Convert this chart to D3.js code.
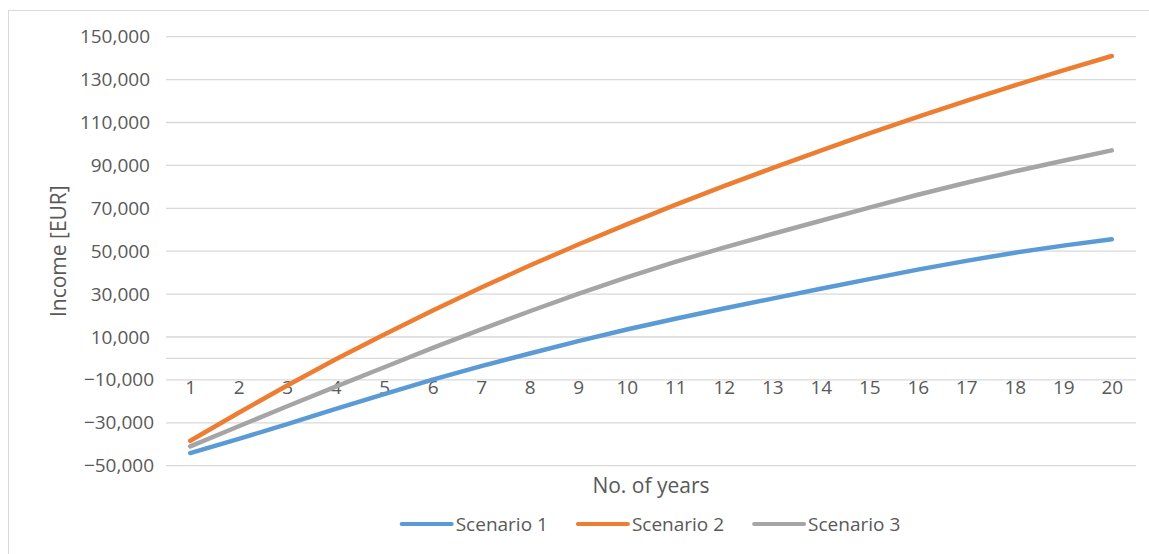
<!DOCTYPE html>
<html>
<head>
<meta charset="utf-8">
<script src="https://cdn.jsdelivr.net/npm/d3@7"></script>
<style>
  html, body { margin: 0; padding: 0; background: #fff; }
  svg { display: block; font-family: "Open Sans", "Noto Sans", sans-serif; }
</style>
</head>
<body>
<svg id="chart" width="1149" height="554"></svg>
<script>
// Project years on the category axis
const years = d3.range(1, 21);

// Cumulative income per scenario [EUR]
const scenario1 = [-44100, -37500, -30600, -23500, -16600, -9900, -3600, 2300, 8100, 13500,
                   18500, 23300, 27900, 32500, 37000, 41400, 45500, 49300, 52600, 55600];
const scenario2 = [-38400, -25300, -12600, -400, 11200, 22400, 33100, 43300, 53100, 62500,
                   71600, 80300, 88700, 96900, 104900, 112600, 120100, 127300, 134300, 141000];
const scenario3 = [-41000, -31600, -22300, -13100, -4100, 4900, 13600, 22000, 30100, 37800,
                   45000, 51700, 58000, 64200, 70300, 76300, 81900, 87200, 92200, 97000];

const seriesNames = ["Scenario 1", "Scenario 2", "Scenario 3"];
const seriesColors = ["#5B9BD5", "#ED7D31", "#A5A5A5"];

// Value axis ticks
const yTicks = [-50000, -30000, -10000, 10000, 30000, 50000, 70000, 90000, 110000, 130000, 150000];

const svg = d3.select("#chart");
const textColor = "#595959";
const gridColor = "#D9D9D9";

const plot = { left: 166, right: 1136, top: 36.7, bottom: 465.7 };

const x = d3.scalePoint().domain(years).range([plot.left, plot.right]).padding(0.5);
const y = d3.scaleLinear().domain([-50000, 150000]).range([plot.bottom, plot.top]);

// Chart area border
svg.append("rect")
  .attr("x", 8.5).attr("y", 10.5)
  .attr("width", 1200).attr("height", 600)
  .attr("fill", "none").attr("stroke", gridColor).attr("stroke-width", 1);

// Horizontal gridlines
svg.append("g")
  .selectAll("line")
  .data(yTicks)
  .join("line")
  .attr("x1", plot.left).attr("x2", plot.right)
  .attr("y1", d => y(d)).attr("y2", d => y(d))
  .attr("stroke", gridColor).attr("stroke-width", 1.3);

// Value axis labels
const fmt = d3.format(",");
const yAxis = svg.append("g")
  .attr("transform", `translate(${plot.left},0)`)
  .call(d3.axisLeft(y).tickValues(yTicks).tickSize(0).tickPadding(16).tickFormat(fmt));
yAxis.select(".domain").remove();
yAxis.selectAll("text")
  .attr("x", d => d < 0 ? -12 : -16)
  .attr("fill", textColor)
  .style("font-size", "19px")
  .style("font-family", "'Open Sans', sans-serif");

// Category axis crossing at zero
const xAxis = svg.append("g")
  .attr("transform", `translate(0,${y(0)})`)
  .call(d3.axisBottom(x).tickSize(0).tickPadding(22));
xAxis.select(".domain")
  .attr("d", `M${plot.left},0H${plot.right}`)
  .attr("stroke", gridColor).attr("stroke-width", 1.3);
xAxis.selectAll("text")
  .attr("fill", textColor)
  .style("font-size", "19px")
  .style("font-family", "'Open Sans', sans-serif");

// Series lines
const series = [scenario1, scenario2, scenario3];
const line = d3.line().x((d, i) => x(years[i])).y(d => y(d));
svg.append("g")
  .selectAll("path")
  .data(series)
  .join("path")
  .attr("d", d => line(d))
  .attr("fill", "none")
  .attr("stroke", (d, i) => seriesColors[i])
  .attr("stroke-width", 4.5)
  .attr("stroke-linecap", "round")
  .attr("stroke-linejoin", "round");

// Axis titles
svg.append("text")
  .attr("x", (plot.left + plot.right) / 2).attr("y", 493)
  .attr("text-anchor", "middle")
  .attr("fill", textColor)
  .style("font-size", "21px")
  .text("No. of years");

svg.append("text")
  .attr("transform", `translate(66,${(plot.top + plot.bottom) / 2}) rotate(-90)`)
  .attr("text-anchor", "middle")
  .attr("fill", textColor)
  .style("font-size", "21px")
  .text("Income [EUR]");

// Legend
const legend = svg.append("g");
const swatchW = 50, swatchGap = 4, itemGap = 30, legendY = 524;
const items = legend.selectAll("g")
  .data(seriesNames)
  .join("g");
items.append("line")
  .attr("x1", 0).attr("x2", swatchW)
  .attr("y1", 0).attr("y2", 0)
  .attr("stroke", (d, i) => seriesColors[i])
  .attr("stroke-width", 4)
  .attr("stroke-linecap", "round");
items.append("text")
  .attr("x", swatchW + swatchGap)
  .attr("y", 0)
  .attr("dy", "0.35em")
  .attr("fill", textColor)
  .style("font-size", "19px")
  .text(d => d);

const widths = [];
items.each(function () {
  widths.push(swatchW + swatchGap + d3.select(this).select("text").node().getComputedTextLength());
});
const total = d3.sum(widths) + itemGap * (widths.length - 1);
let cursor = (plot.left + plot.right) / 2 - total / 2;
items.attr("transform", (d, i) => {
  const t = `translate(${cursor},${legendY})`;
  cursor += widths[i] + itemGap;
  return t;
});
</script>
</body>
</html>
